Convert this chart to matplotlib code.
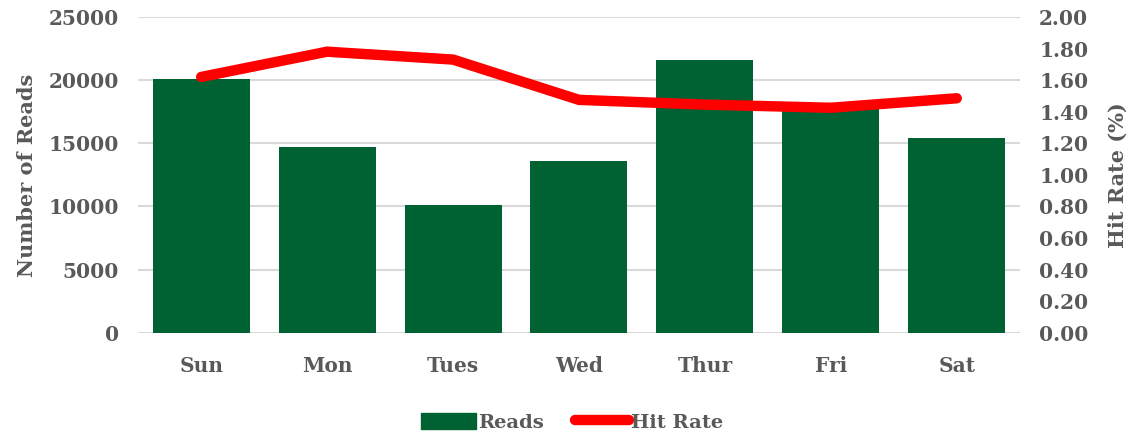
import matplotlib
matplotlib.use("Agg")
import matplotlib.pyplot as plt
from matplotlib.lines import Line2D
from matplotlib.patches import Patch

days = ["Sun", "Mon", "Tues", "Wed", "Thur", "Fri", "Sat"]
reads = [20100, 14700, 10100, 13600, 21600, 17700, 15400]
hit_rate = [1.62, 1.78, 1.73, 1.475, 1.445, 1.425, 1.485]

GREEN = "#006233"
RED = "#ff0000"
TEXT = "#595959"
GRID = "#d9d9d9"

plt.rcParams["font.family"] = ["DejaVu Serif"]
plt.rcParams["font.weight"] = "bold"
plt.rcParams["axes.labelweight"] = "bold"

fig = plt.figure(figsize=(11.33, 4.34), dpi=100)
ax = fig.add_axes([0.122, 0.233, 0.778, 0.728])
ax2 = ax.twinx()

x = range(len(days))
ax.bar(x, reads, width=0.77, color=GREEN, zorder=2)
ax2.plot(x, hit_rate, color=RED, lw=7.5, solid_capstyle="round",
         solid_joinstyle="miter", zorder=3)

ax.set_ylim(0, 25000)
ax.set_yticks(range(0, 25001, 5000))
ax2.set_ylim(0, 2.0)
ax2.set_yticks([i * 0.2 for i in range(11)])
ax2.set_yticklabels([f"{i * 0.2:.2f}" for i in range(11)])
ax.set_xlim(-0.5, len(days) - 0.5)
ax.set_xticks(list(x))
ax.set_xticklabels(days)

ax.grid(axis="y", color=GRID, lw=1.5, zorder=0)
ax.set_axisbelow(True)
for a in (ax, ax2):
    for s in a.spines.values():
        s.set_visible(False)
    a.tick_params(length=0, labelsize=14.5, labelcolor=TEXT)
ax.tick_params(axis="y", pad=14)
ax.tick_params(axis="x", pad=17)
ax2.tick_params(axis="y", pad=14)

ax.set_ylabel("Number of Reads", fontsize=15, color=TEXT, labelpad=8)
ax2.set_ylabel("Hit Rate (%)", fontsize=15, color=TEXT, labelpad=14)

handles = [Patch(color=GREEN, label="Reads"),
           Line2D([0], [0], color=RED, lw=7.5, solid_capstyle="round", label="Hit Rate")]
fig.legend(handles=handles, loc="lower center", bbox_to_anchor=(0.505, -0.035), ncol=2,
           frameon=False, fontsize=14, labelcolor=TEXT, handlelength=2.8,
           handleheight=0.9, handletextpad=0.1, columnspacing=1.6)

fig.savefig("out.png", dpi=100)
